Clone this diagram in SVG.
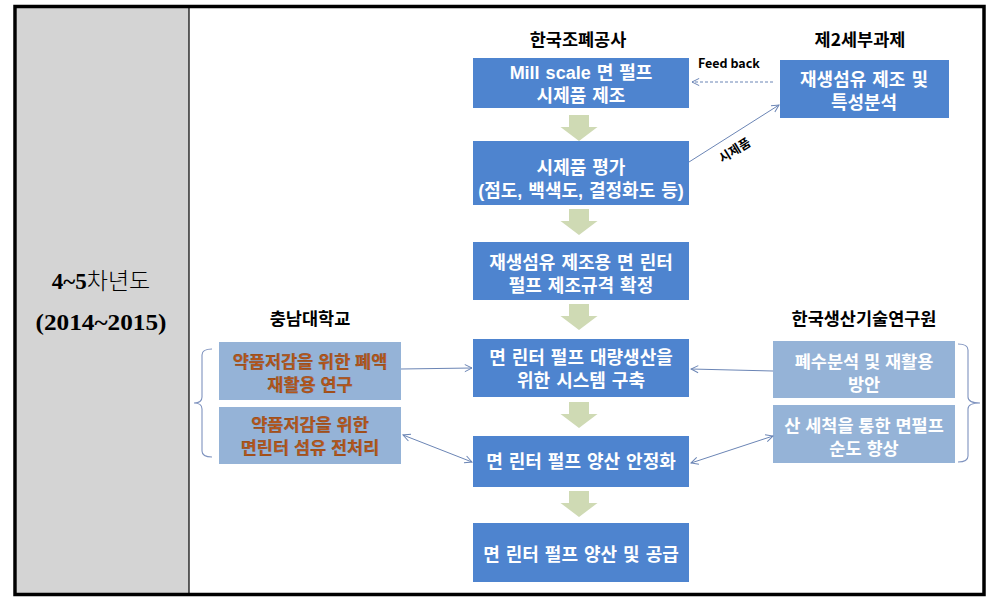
<svg xmlns="http://www.w3.org/2000/svg" width="993" height="611" viewBox="0 0 993 611">
<style>
.main{fill:#4E84CF}
.lite{fill:#95B3D7}
.wt{fill:#fff;font-family:"Liberation Sans","Noto Sans CJK KR",sans-serif;font-weight:700;font-size:18px;word-spacing:1px;text-anchor:middle}
.lt{fill:#fff;font-family:"Liberation Sans","Noto Sans CJK KR",sans-serif;font-weight:700;font-size:17.5px;text-anchor:middle}
.ot{fill:#B5561A;stroke:#6b3a1a;stroke-width:0.25;font-family:"Liberation Sans","Noto Sans CJK KR",sans-serif;font-weight:700;font-size:17.5px;text-anchor:middle}
.hd{fill:#000;font-family:"Noto Sans CJK KR","Noto Sans",sans-serif;font-weight:700;font-size:17.5px;text-anchor:middle}
.sm{fill:#000;font-family:"Noto Sans CJK KR","Noto Sans",sans-serif;font-weight:700;font-size:12.5px}
.con{fill:none;stroke:#6B85B5;stroke-width:1}
.brace{fill:none;stroke:#7F93BF;stroke-width:1.1}
.darr{fill:#CFDAB4}
</style>
<defs>
<marker id="ah" viewBox="0 0 10 10" refX="9" refY="5" markerWidth="9" markerHeight="9" markerUnits="userSpaceOnUse" orient="auto-start-reverse">
<path d="M1,1 L9,5 L1,9" fill="none" stroke="#6B85B5" stroke-width="1.1"/>
</marker>
<path id="down" d="M-10,0 H10 V12 H18.5 L0,26 L-18.5,12 H-10 Z"/>
</defs>
<rect x="0" y="0" width="993" height="611" fill="#fff"/>
<g id="frame">
<rect x="17" y="8" width="172" height="585" fill="#D4D4D4"/>
<line x1="189" y1="8" x2="189" y2="593" stroke="#000" stroke-width="1.2"/>
<rect x="15" y="6.5" width="969" height="588" fill="none" stroke="#000" stroke-width="3.5"/>
</g>
<g id="period">
<text x="101" y="289" text-anchor="middle"><tspan font-family="Liberation Serif,serif" font-weight="700" font-size="23px">4~5</tspan><tspan font-family="Noto Sans CJK KR,sans-serif" font-weight="300" font-size="23px">차년도</tspan></text>
<text x="101" y="330" text-anchor="middle" font-family="Liberation Serif,serif" font-weight="700" font-size="23px" textLength="131" lengthAdjust="spacingAndGlyphs">(2014~2015)</text>
</g>
<g id="headers">
<text class="hd" x="578" y="46">한국조폐공사</text>
<text class="hd" x="860" y="46">제2세부과제</text>
<text class="hd" x="310" y="325">충남대학교</text>
<text class="hd" x="864" y="325">한국생산기술연구원</text>
</g>
<g id="n1"><rect class="main" x="473" y="58" width="216" height="50"/><text class="wt" y="79"><tspan x="581">Mill scale 면 펄프</tspan><tspan x="581" dy="23">시제품 제조</tspan></text></g>
<g id="n2"><rect class="main" x="473" y="141" width="216" height="64"/><text class="wt" y="174"><tspan x="581">시제품 평가</tspan><tspan x="581" dy="23">(점도, 백색도, 결정화도 등)</tspan></text></g>
<g id="n3"><rect class="main" x="473" y="242" width="216" height="58"/><text class="wt" y="269"><tspan x="581">재생섬유 제조용 면 린터</tspan><tspan x="581" dy="23">펄프 제조규격 확정</tspan></text></g>
<g id="n4"><rect class="main" x="473" y="339" width="216" height="58"/><text class="wt" y="364"><tspan x="581">면 린터 펄프 대량생산을</tspan><tspan x="581" dy="23">위한  시스템 구축</tspan></text></g>
<g id="n5"><rect class="main" x="473" y="436" width="216" height="51"/><text class="wt" x="581" y="468">면 린터 펄프 양산 안정화</text></g>
<g id="n6"><rect class="main" x="473" y="523" width="216" height="59"/><text class="wt" x="581" y="561">면 린터 펄프 양산 및 공급</text></g>
<g id="n7"><rect class="main" x="780" y="60" width="169" height="58"/><text class="wt" y="86"><tspan x="864">재생섬유 제조 및</tspan><tspan x="864" dy="23">특성분석</tspan></text></g>
<g id="n8"><rect class="lite" x="219" y="342" width="182" height="58"/><text class="ot" y="368"><tspan x="310">약품저감을 위한 폐액</tspan><tspan x="310" dy="23">재활용 연구</tspan></text></g>
<g id="n9"><rect class="lite" x="219" y="407" width="182" height="57"/><text class="ot" y="431"><tspan x="310">약품저감을 위한</tspan><tspan x="310" dy="23">면린터 섬유 전처리</tspan></text></g>
<g id="n10"><rect class="lite" x="773" y="341" width="182" height="57"/><text class="lt" y="368"><tspan x="864">폐수분석 및 재활용</tspan><tspan x="864" dy="23">방안</tspan></text></g>
<g id="n11"><rect class="lite" x="773" y="405" width="182" height="58"/><text class="lt" y="432"><tspan x="864">산 세척을 통한 면펄프</tspan><tspan x="864" dy="23">순도 향상</tspan></text></g>
<g id="flow">
<use href="#down" class="darr" x="579" y="115"/>
<use href="#down" class="darr" x="579" y="209"/>
<use href="#down" class="darr" x="579" y="304"/>
<use href="#down" class="darr" x="579" y="402"/>
<use href="#down" class="darr" x="579" y="491"/>
</g>
<g id="connectors">
<line class="con" x1="773" y1="82" x2="692" y2="82" stroke-dasharray="3,2" marker-end="url(#ah)"/>
<line class="con" x1="689" y1="162" x2="779" y2="105" marker-end="url(#ah)"/>
<line class="con" x1="401" y1="369" x2="472" y2="368" marker-end="url(#ah)"/>
<line class="con" x1="403" y1="435" x2="472" y2="462" marker-start="url(#ah)" marker-end="url(#ah)"/>
<line class="con" x1="773" y1="371" x2="691" y2="369" marker-end="url(#ah)"/>
<line class="con" x1="691" y1="463" x2="773" y2="436" marker-start="url(#ah)" marker-end="url(#ah)"/>
<path class="brace" d="M212,349 Q202,349 202,355 L202,397 Q202,403 194,403 Q202,403 202,409 L202,451 Q202,457 212,457"/>
<path class="brace" d="M958,344 Q968,344 968,350 L968,397 Q968,403 980,403 Q968,403 968,409 L968,456 Q968,462 958,462"/>
</g>
<g id="labels">
<text class="sm" x="698" y="68" font-weight="600">Feed back</text>
<text class="sm" x="0" y="0" text-anchor="middle" transform="translate(737,154) rotate(-32)">시제품</text>
</g>
</svg>
